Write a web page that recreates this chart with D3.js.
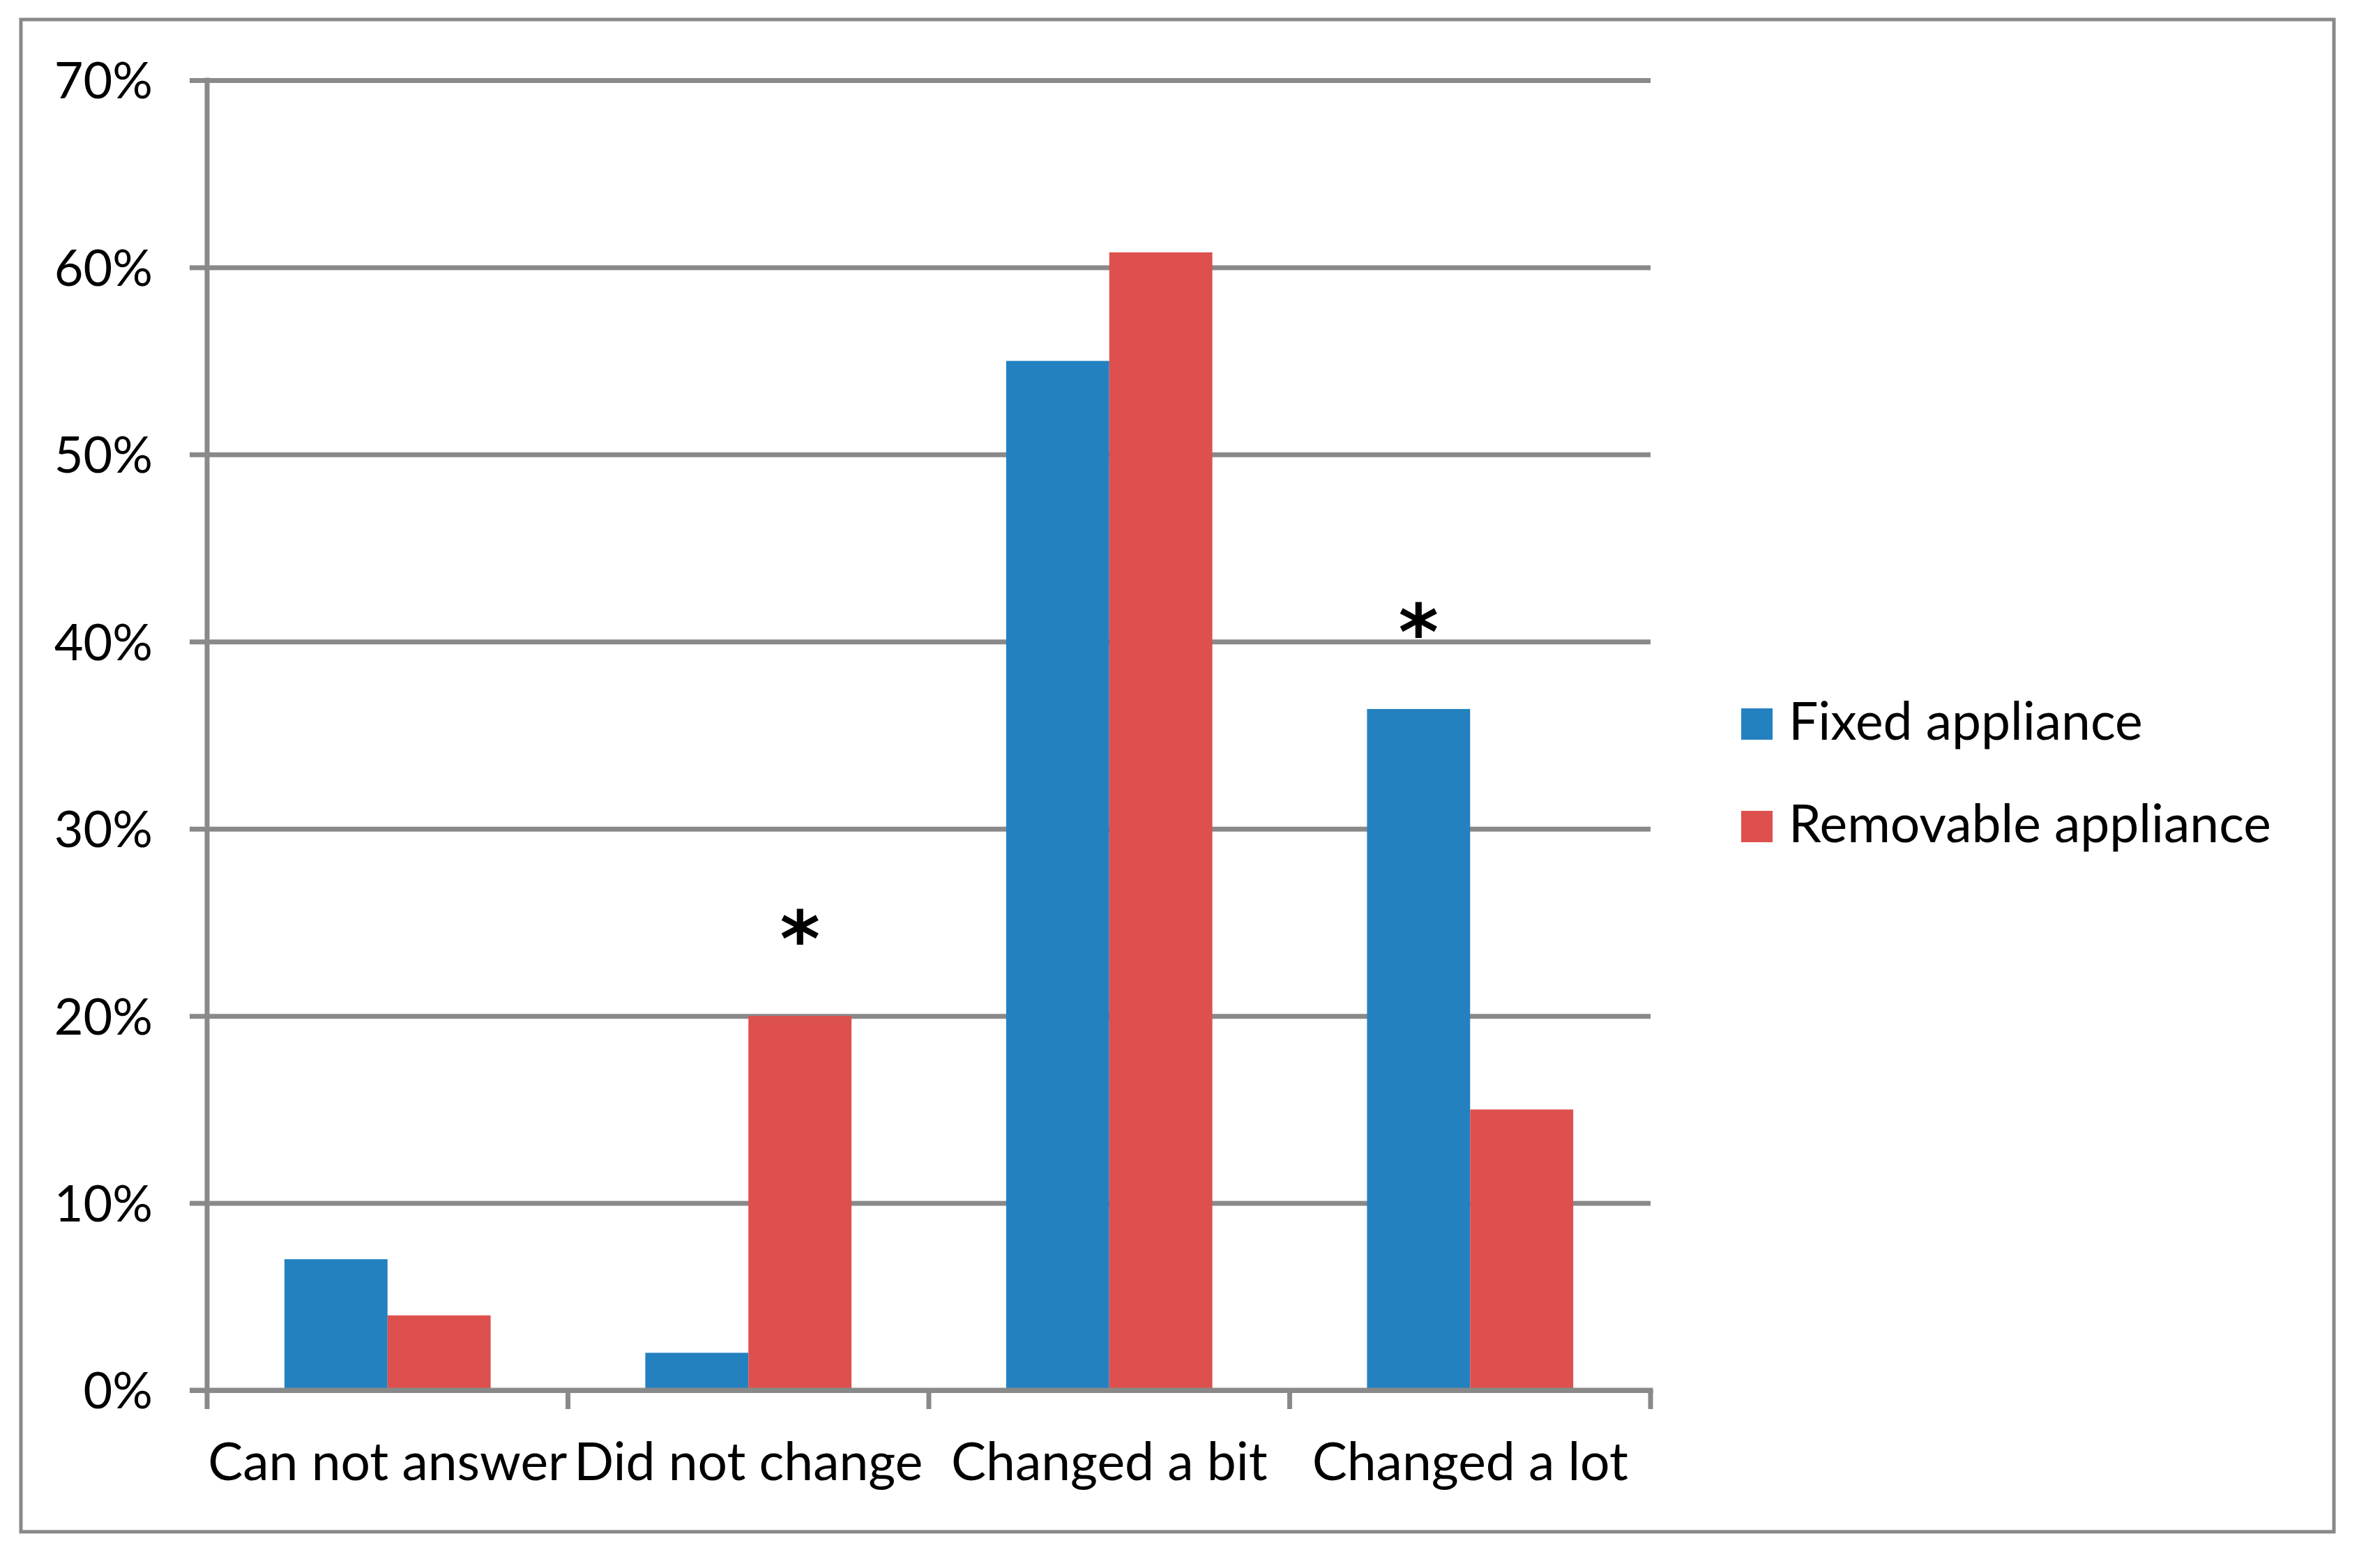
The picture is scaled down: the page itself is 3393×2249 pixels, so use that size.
<!DOCTYPE html>
<html>
<head>
<meta charset="utf-8">
<script src="https://cdn.jsdelivr.net/npm/d3@7"></script>
<style>
  html, body { margin: 0; padding: 0; background: #fff; }
  svg { display: block; }
  text { font-family: Lato, "Open Sans", sans-serif; fill: #000; }
</style>
</head>
<body>
<script>
const categories = ["Can not answer", "Did not change", "Changed a bit", "Changed a lot"];
const seriesNames = ["Fixed appliance", "Removable appliance"];
const fixedValues = [7, 2, 55, 36.4];
const removableValues = [4, 20, 60.8, 15];
const significant = [false, true, false, true];
const yTicks = [0, 10, 20, 30, 40, 50, 60, 70];
const colors = ["#2481C0", "#DE504E"];

(function () {
const W = 3393, H = 2249;
const gridColor = "#898989";
const plotLeft = 297, plotRight = 2367, plotTop = 115, plotBottom = 1994;
const fontSize = 75;

const svg = d3.select("body").append("svg").attr("width", W).attr("height", H);

// outer frame
svg.append("rect")
  .attr("x", 30).attr("y", 28).attr("width", 3317).attr("height", 2169)
  .attr("fill", "none").attr("stroke", gridColor).attr("stroke-width", 5);

const x0 = d3.scaleBand().domain(categories).range([plotLeft, plotRight]).paddingInner(0).paddingOuter(0);
const x1 = d3.scaleBand().domain(seriesNames).range([0, x0.bandwidth()]).paddingInner(0).paddingOuter(0.75);
const y = d3.scaleLinear().domain([0, 70]).range([plotBottom, plotTop]);

// Y axis with gridlines
const yAxis = d3.axisLeft(y).tickValues(yTicks).tickFormat(d => d + "%")
  .tickSize(-(plotRight - plotLeft)).tickPadding(0);
const gy = svg.append("g").attr("transform", `translate(${plotLeft},0)`).call(yAxis);
gy.select(".domain").remove();
gy.selectAll(".tick line")
  .attr("x1", -25).attr("x2", plotRight - plotLeft)
  .attr("stroke", gridColor).attr("stroke-width", 7);
gy.selectAll(".tick text")
  .attr("x", 219 - plotLeft).attr("text-anchor", "end")
  .attr("dy", "0.36em")
  .style("font-size", "72px").style("font-family", "Lato, sans-serif").attr("fill", "#000");

// y axis line
svg.append("line").attr("x1", plotLeft).attr("x2", plotLeft).attr("y1", plotTop - 3.5).attr("y2", plotBottom)
  .attr("stroke", gridColor).attr("stroke-width", 7);

// bars
const data = categories.map((c, i) => ({ cat: c, values: [fixedValues[i], removableValues[i]], sig: significant[i] }));
const groups = svg.append("g").selectAll("g").data(data).join("g")
  .attr("transform", d => `translate(${x0(d.cat)},0)`);
groups.selectAll("rect").data(d => d.values.map((v, k) => ({ name: seriesNames[k], v, k })))
  .join("rect")
  .attr("x", d => x1(d.name))
  .attr("width", x1.bandwidth())
  .attr("y", d => y(d.v))
  .attr("height", d => y(0) - y(d.v))
  .attr("fill", d => colors[d.k]);

// asterisks above the taller bar of significant groups
groups.filter(d => d.sig).append("text")
  .attr("x", d => { const k = d.values[0] >= d.values[1] ? 0 : 1; return x1(seriesNames[k]) + x1.bandwidth() / 2; })
  .attr("y", d => y(d3.max(d.values)) - 71)
  .attr("text-anchor", "middle")
  .style("font-family", "'DejaVu Sans', sans-serif")
  .style("font-weight", "bold")
  .style("font-size", "110px")
  .text("*");

// X axis (baseline + ticks at band edges)
const xAxis = d3.axisBottom(x0).tickSize(0).tickPadding(0);
const gx = svg.append("g").attr("transform", `translate(0,${plotBottom})`).call(xAxis);
gx.select(".domain").remove();
gx.selectAll(".tick text")
  .attr("y", 2123 - plotBottom).attr("dy", 0)
  .style("font-size", fontSize + "px").style("font-family", "Lato, sans-serif").attr("fill", "#000");
svg.append("line").attr("x1", plotLeft - 25).attr("x2", plotRight + 3.5).attr("y1", plotBottom).attr("y2", plotBottom)
  .attr("stroke", gridColor).attr("stroke-width", 7);
const edges = categories.map(c => x0(c)).concat([x0(categories[categories.length - 1]) + x0.bandwidth()]);
svg.append("g").selectAll("line").data(edges).join("line")
  .attr("x1", d => d).attr("x2", d => d).attr("y1", plotBottom).attr("y2", 2021)
  .attr("stroke", gridColor).attr("stroke-width", 7);

// legend
const legend = svg.append("g").selectAll("g").data(seriesNames).join("g")
  .attr("transform", (d, i) => `translate(2497,${1016 + i * 147})`);
legend.append("rect").attr("width", 45).attr("height", 45).attr("fill", (d, i) => colors[i]);
legend.append("text").attr("x", 68).attr("y", 45)
  .style("font-size", fontSize + "px").text(d => d);
})();
</script>
</body>
</html>
